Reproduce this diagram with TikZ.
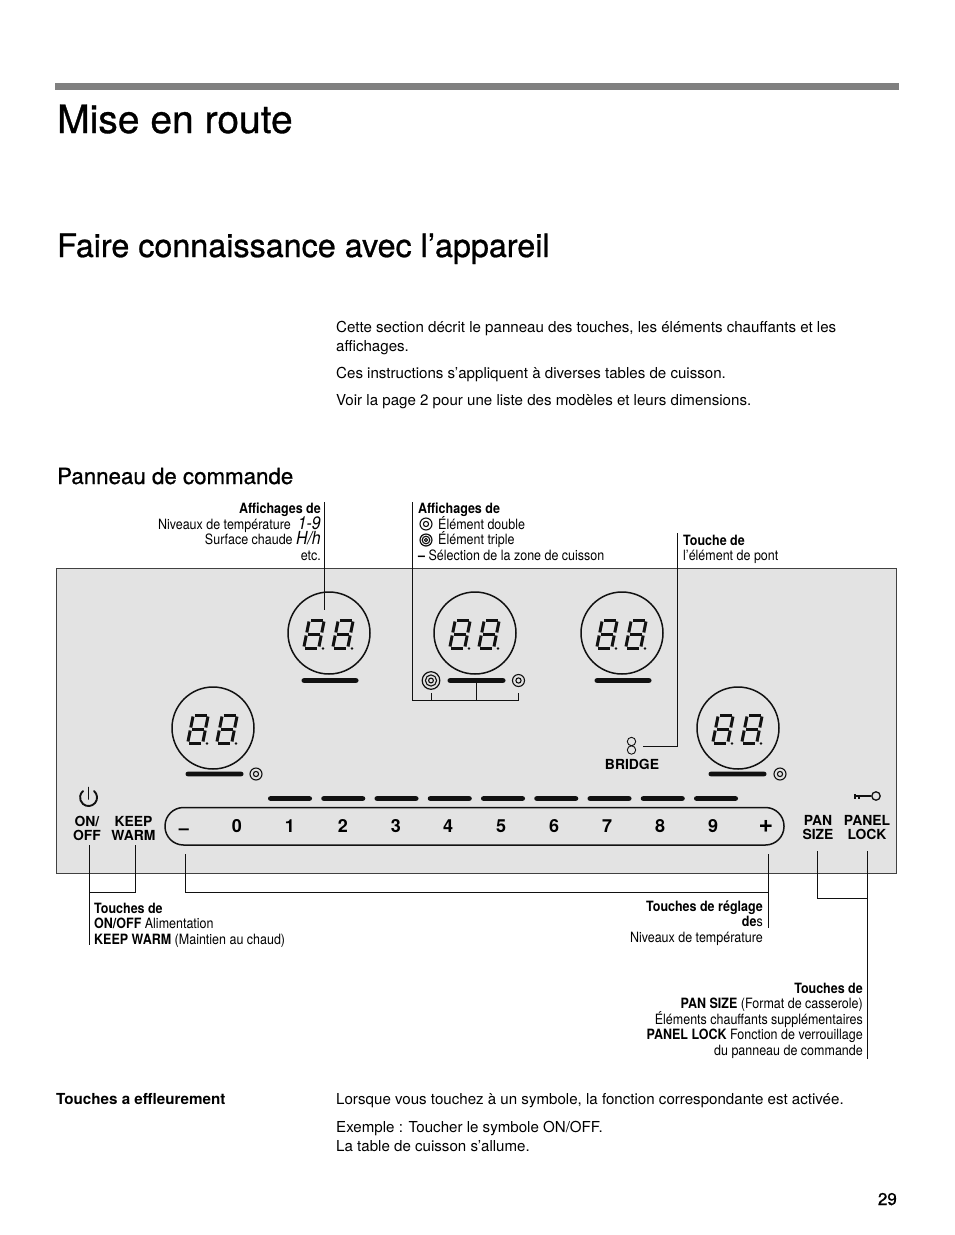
\documentclass[tikz,border=0pt]{standalone}
\usepackage{fontspec}
\setmainfont{TeX Gyre Heros}
\newfontfamily\headfont[FakeBold=0.8]{TeX Gyre Heros}
\newfontfamily\narrowfont[FakeStretch=0.88]{TeX Gyre Heros}
\usetikzlibrary{calc}
\definecolor{panelgray}{HTML}{E3E3E3}
\definecolor{rulegray}{HTML}{808080}
\definecolor{inkblack}{HTML}{111111}
\newcommand{\callfont}{\narrowfont\fontsize{14.2}{15.6}\selectfont}
\newcommand{\segtext}[1]{\smash{\itshape\fontsize{18}{15.6}\selectfont #1}}
\tikzset{
  pics/segdigit/.style={code={
    \foreach \xa/\ya/\xb/\yb in {-6/-14/6/-14,-6/0/6/0,-6/14/6/14,-7.5/-12.5/-7.5/-1.5,7.5/-12.5/7.5/-1.5,-7.5/1.5/-7.5/12.5,7.5/1.5/7.5/12.5}
      \draw[line width=3pt,inkblack] ({\xa-0.2*\ya},\ya) -- ({\xb-0.2*\yb},\yb);
    \fill[inkblack] (9,14.5) circle (1.4);
  }},
  pics/ringtwo/.style={code={
    \draw[inkblack,line width=1.1pt] (0,0) circle (6);
    \draw[inkblack,line width=1.1pt] (0,0) circle (2.6);
  }},
  pics/ringthree/.style={code={
    \draw[inkblack,line width=1.2pt] (0,0) circle (8.8);
    \draw[inkblack,line width=1.1pt] (0,0) circle (5.6);
    \draw[inkblack,line width=1.1pt] (0,0) circle (2.4);
  }}
}
\begin{document}
\begin{tikzpicture}[x=1pt,y=-1pt,
    dial/.style={draw=inkblack, line width=1.5pt, circle, minimum size=82pt, inner sep=0pt},
    bar/.style={fill=inkblack, rounded corners=2.2pt, minimum height=4.6pt, inner sep=0pt},
    para/.style={anchor=base west, inner sep=0pt, font=\fontsize{15.1}{19}\selectfont, align=left},
    call/.style={inner sep=0pt, font=\callfont},
    key/.style={inner sep=0pt, align=center, font=\bfseries\fontsize{13.9}{14}\selectfont},
    num/.style={inner sep=0pt, font=\bfseries\fontsize{18}{18}\selectfont},
    lead/.style={draw=inkblack, line width=0.8pt}
  ]
    \useasboundingbox (0,0) rectangle (954,1235);

    % page head
    \fill[rulegray] (55,83) rectangle (899,90);
    \node[anchor=base west, inner sep=0pt, font=\headfont\fontsize{39}{40}\selectfont] (title) at (57,133) {Mise en route};
    \node[anchor=base west, inner sep=0pt, font=\headfont\fontsize{32.3}{34}\selectfont] (section) at (57,257) {Faire connaissance avec l’appareil};
    \node[para] (introa) at (336,351) {Cette section décrit le panneau des touches, les éléments chauffants et les\\affichages.};
    \node[para] (introb) at (336,378) {Ces instructions s’appliquent à diverses tables de cuisson.};
    \node[para] (introc) at (336,405) {Voir la page 2 pour une liste des modèles et leurs dimensions.};
    \node[anchor=base west, inner sep=0pt, font=\headfont\fontsize{22.3}{24}\selectfont] (panelhead) at (57,484) {Panneau de commande};

    % panel
    \draw[fill=panelgray, draw=inkblack!80, line width=0.7pt] (56.5,568.5) rectangle (896.5,873.5);

    % displays
    \foreach \name/\xd/\yd in {dispa/329/633,dispb/475/633,dispc/622/633,dispd/213/728,dispe/738/728}{
      \node[dial] (\name) at (\xd,\yd) {};
      \pic at ($(\name)+(-15,1)$) {segdigit};
      \pic at ($(\name)+(14,1)$) {segdigit};
    }
    \node[bar, minimum width=57pt] (bara) at (330,680.5) {};
    \node[bar, minimum width=58pt] (barb) at (476.5,680.5) {};
    \node[bar, minimum width=57pt] (barc) at (623,680.5) {};
    \node[bar, minimum width=58pt] (bard) at (214.5,774) {};
    \node[bar, minimum width=58pt] (bare) at (737.5,774) {};
    \pic at (431,680.5) {ringthree};
    \pic at (518.5,680.5) {ringtwo};
    \pic at (256,774) {ringtwo};
    \pic at (780,774) {ringtwo};

    % slider
    \foreach \i in {0,...,8}{
      \node[bar, minimum width=44pt] (step\i) at ({290+53.25*\i},798.5) {};
    }
    \draw[inkblack, line width=1.5pt, rounded corners=18.5pt] (165,807.5) rectangle (784,845);
    \foreach \lab/\xn in {0/237,1/290,2/343,3/396,4/448,5/501,6/554,7/607,8/660,9/713}{
      \node[num] (num\xn) at (\xn,826) {\lab};
    }
    \node[num] (numminus) at (184,832) {–};
    \node[num, font=\bfseries\fontsize{25}{25}\selectfont] (numplus) at (766,826) {+};

    % keys
    \node[key] (onoff) at (87,828) {ON/\\OFF};
    \node[key] (keepwarm) at (133.5,828) {KEEP\\WARM};
    \node[key] (pansize) at (818,828) {PAN\\SIZE};
    \node[key] (panellock) at (867,828) {PANEL\\LOCK};
    \node[key] (bridge) at (632,764) {BRIDGE};

    % power, lock and bridge symbols
    \draw[inkblack, line width=1.9pt, line cap=round] (94,791) arc[start angle=-50, end angle=230, radius=8.5];
    \draw[inkblack, line width=1.9pt, line cap=round] (88.5,787.5) -- (88.5,799);
    \draw[inkblack, line width=1.3pt] (876,796) circle (4.2);
    \draw[inkblack, line width=1.8pt] (871,796) -- (855,796) (855,794) -- (855,799) (859,796) -- (859,799);
    \draw[inkblack, line width=0.9pt] (631.5,741.5) circle (4.2) (631.5,750) circle (4.2);

    % callouts above the panel
    \node[call, anchor=north east, align=right] (labtemp) at (321,503) {\textbf{Affichages de}\\Niveaux de température\enspace\segtext{1-9}\\Surface chaude \segtext{H/h}\\etc.};
    \node[call, anchor=north west, align=left] (labzone) at (418,503) {\textbf{Affichages de}\\\hspace{20pt}\smash{É}lément double\\\hspace{20pt}\smash{É}lément triple\\\textbf{–} Sélection de la zone de cuisson};
    \node[call, anchor=north west, align=left] (labbridge) at (683,534.5) {\textbf{Touche de}\\l’élément de pont};
    \pic[scale=1] at (426,524) {ringtwo};
    \pic[scale=0.68] at (426,540) {ringthree};

    % callouts below the panel
    \node[call, anchor=north west, align=left] (labpower) at (94,902.5) {\textbf{Touches de}\\\textbf{ON/OFF} Alimentation\\\textbf{KEEP WARM} (Maintien au chaud)};
    \node[call, anchor=north east, align=right] (labslider) at (763,900.5) {\textbf{Touches de réglage}\\\textbf{de}s\\Niveaux de température};
    \node[call, anchor=north east, align=right] (labpan) at (863,982.5) {\textbf{Touches de}\\\textbf{PAN SIZE} (Format de casserole)\\\smash{É}léments chauffants supplémentaires\\\textbf{PANEL LOCK} Fonction de verrouillage\\du panneau de commande};

    % leader ends
    \coordinate (temptop) at (324.5,502);
    \coordinate (tempend) at (324.5,610);
    \coordinate (zonetop) at (412.5,502);
    \coordinate (zonecorner) at (412.5,700);
    \coordinate (zoneend) at (518,700);
    \coordinate (ringleft) at (431,693);
    \coordinate (ringright) at (518,693);
    \coordinate (bridgetop) at (677,533);
    \coordinate (bridgecorner) at (677,746);
    \coordinate (bridgeend) at (643,746);
    \coordinate (ontop) at (89.5,845);
    \coordinate (onend) at (89.5,945);
    \coordinate (warmtop) at (135.5,845);
    \coordinate (warmjoin) at (135.5,892);
    \coordinate (sliderleft) at (185.5,854);
    \coordinate (sliderleftlow) at (185.5,892);
    \coordinate (sliderrightlow) at (768.5,892);
    \coordinate (sliderright) at (768.5,854);
    \coordinate (sliderend) at (768.5,928);
    \coordinate (pantop) at (817.5,851);
    \coordinate (panjoin) at (817.5,898);
    \coordinate (locktop) at (867.5,851);
    \coordinate (lockjoin) at (867.5,898);
    \coordinate (lockend) at (867.5,1059);

    \draw[lead] (temptop) -- (tempend);
    \draw[lead] (zonetop) -- (zonecorner) -- (zoneend) -- (ringright);
    \draw[lead] (ringleft) -- (ringleft |- zonecorner);
    \draw[lead] (barb.south) -- (barb.south |- zonecorner);
    \draw[lead] (bridgetop) -- (bridgecorner) -- (bridgeend);
    \draw[lead] (ontop) -- (onend);
    \draw[lead] (warmtop) -- (warmjoin) -- (ontop |- warmjoin);
    \draw[lead] (sliderleft) -- (sliderleftlow) -- (sliderrightlow);
    \draw[lead] (sliderright) -- (sliderend);
    \draw[lead] (pantop) -- (panjoin) -- (lockjoin);
    \draw[lead] (locktop) -- (lockend);

    % page foot
    \node[anchor=base west, inner sep=0pt, font=\bfseries\fontsize{15.2}{19}\selectfont] (touchhead) at (56,1104) {Touches a effleurement};
    \node[para] (touchtext) at (336,1104) {Lorsque vous touchez à un symbole, la fonction correspondante est activée.};
    \node[para] (example) at (336,1151) {Exemple : Toucher le symbole ON/OFF.\\La table de cuisson s’allume.};
    \node[anchor=base east, inner sep=0pt, font=\headfont\fontsize{17}{18}\selectfont] (pagenum) at (897,1205) {29};
\end{tikzpicture}
\end{document}
